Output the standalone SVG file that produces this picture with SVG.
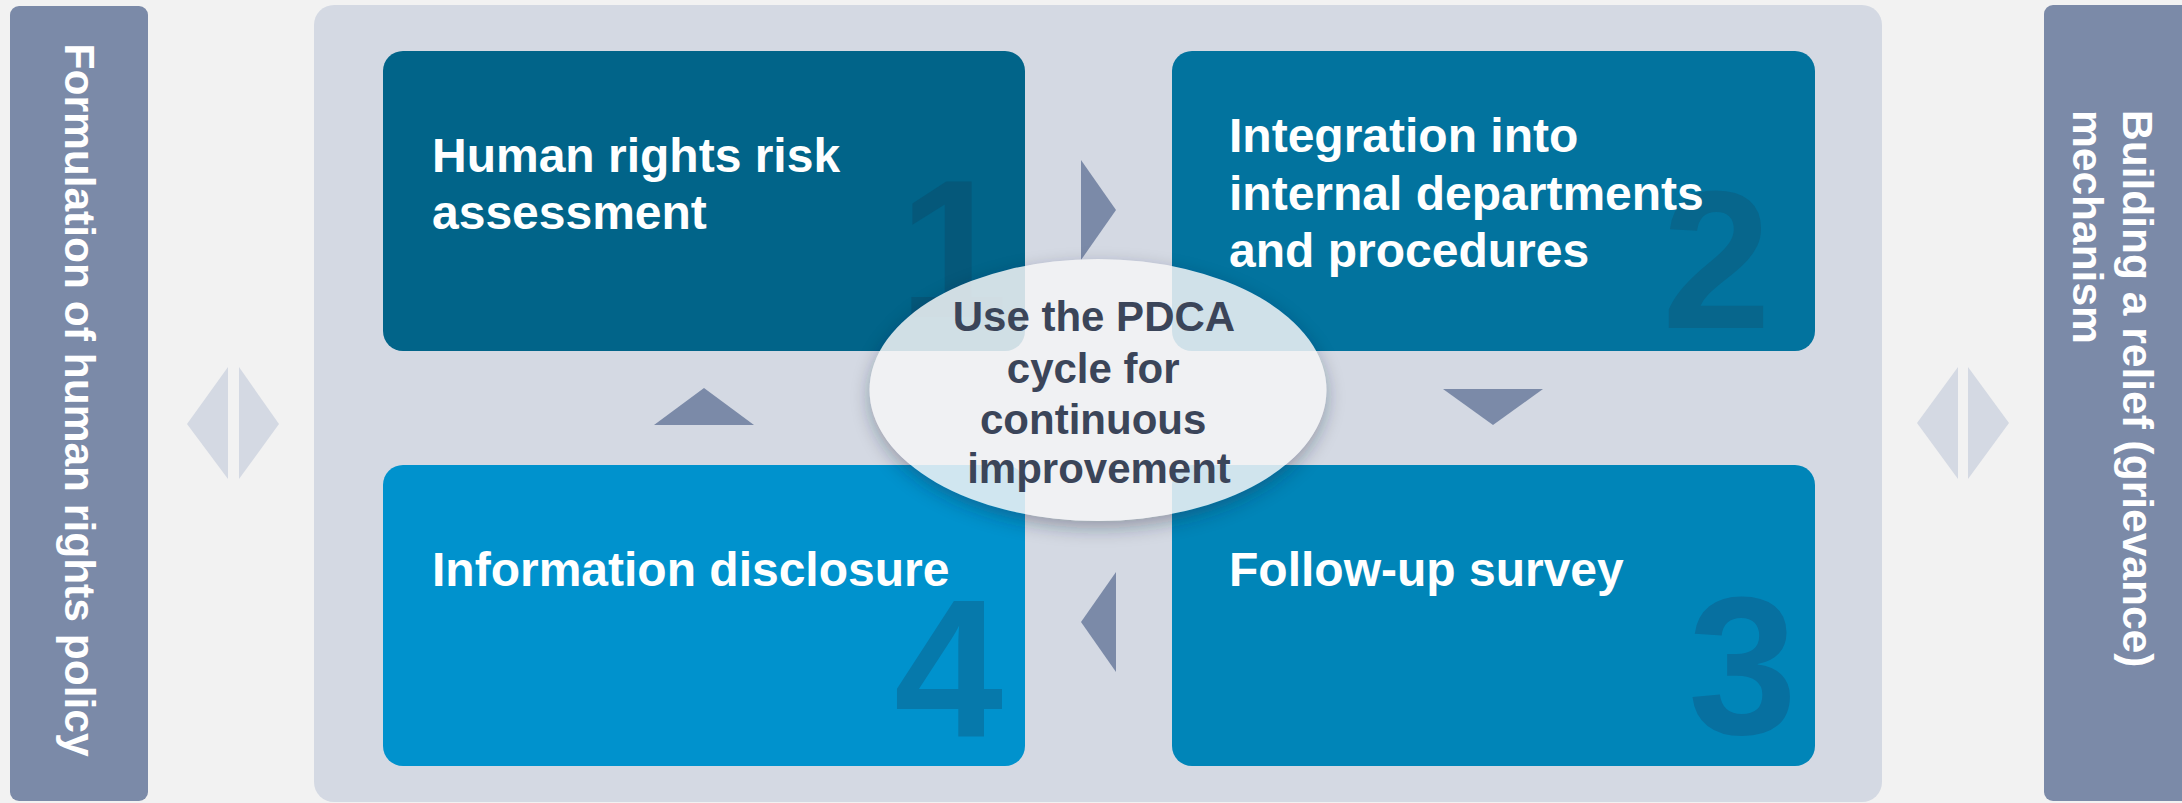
<svg xmlns="http://www.w3.org/2000/svg" width="2182" height="803" viewBox="0 0 2182 803">
  <style>
    .side { fill: #7b8aa8; }
    .side-label { font-family: "Liberation Sans", Arial, sans-serif; font-weight: bold; font-size: 42.5px; fill: #ffffff; }
    .frame { fill: #d4d9e3; }
    .step-label { font-family: "Liberation Sans", Arial, sans-serif; font-weight: bold; font-size: 48px; fill: #ffffff; }
    .step-num { font-family: "Liberation Sans", Arial, sans-serif; font-weight: bold; font-size: 196px; }
    .flow { fill: #7b8aa8; }
    .link { fill: #d4d9e3; }
    .hub-label { font-family: "Liberation Sans", Arial, sans-serif; font-weight: bold; font-size: 42px; fill: #3b4559; text-anchor: middle; }
  </style>
  <defs>
    <filter id="softShadow" x="-20%" y="-20%" width="140%" height="150%">
      <feGaussianBlur stdDeviation="9"/>
    </filter>
    <mask id="outsideHub">
      <rect x="0" y="0" width="2182" height="803" fill="#ffffff"/>
      <ellipse cx="1098" cy="390" rx="228.5" ry="131" fill="#000000"/>
    </mask>
  </defs>

  <!-- page background -->
  <rect x="0" y="0" width="2182" height="803" fill="#f2f2f2"/>

  <!-- left pillar -->
  <g id="node-policy">
    <rect class="side" x="10" y="6" width="138" height="795" rx="9"/>
    <text class="side-label" transform="translate(65,400) rotate(90)" text-anchor="middle">Formulation of human rights policy</text>
  </g>

  <!-- right pillar -->
  <g id="node-grievance">
    <rect class="side" x="2044" y="5" width="146" height="796" rx="9"/>
    <text class="side-label" transform="translate(2123,110) rotate(90)">
      <tspan x="0" y="0">Building a relief (grievance)</tspan>
      <tspan x="0" y="50">mechanism</tspan>
    </text>
  </g>

  <!-- central frame holding the cycle -->
  <g id="node-cycle">
    <rect class="frame" x="314" y="5" width="1568" height="797" rx="20"/>
  </g>

  <!-- step 1 -->
  <g id="node-step1">
    <rect x="383" y="51" width="642" height="300" rx="20" fill="#016489"/>
    <text class="step-num" x="1008" y="317" text-anchor="end" fill="#05587a">1</text>
    <text class="step-label" x="432" y="171.5">
      <tspan x="432" y="171.5">Human rights risk</tspan>
      <tspan x="432" y="228.5">assessment</tspan>
    </text>
  </g>

  <!-- step 2 -->
  <g id="node-step2">
    <rect x="1172" y="51" width="643" height="300" rx="20" fill="#02739e"/>
    <text class="step-num" x="1662" y="328" fill="#07668c">2</text>
    <text class="step-label">
      <tspan x="1229" y="152.3">Integration into</tspan>
      <tspan x="1229" y="209.5">internal departments</tspan>
      <tspan x="1229" y="266.7">and procedures</tspan>
    </text>
  </g>

  <!-- step 3 -->
  <g id="node-step3">
    <rect x="1172" y="465" width="643" height="301" rx="20" fill="#0085b8"/>
    <text class="step-num" x="1688" y="734" fill="#0770a0">3</text>
    <text class="step-label" x="1229" y="585.7">Follow-up survey</text>
  </g>

  <!-- step 4 -->
  <g id="node-step4">
    <rect x="383" y="465" width="642" height="301" rx="20" fill="#0092cd"/>
    <text class="step-num" x="894" y="737" fill="#0679ab">4</text>
    <text class="step-label" x="432" y="585.7">Information disclosure</text>
  </g>

  <!-- connectors: cycle arrows and side links -->
  <g id="connectors">
    <polygon class="flow" points="1081,160 1116,210 1081,260"/>
    <polygon class="flow" points="1443,389 1543,389 1493,425"/>
    <polygon class="flow" points="1116,572 1081,622 1116,672"/>
    <polygon class="flow" points="654,425 754,425 704,388"/>
    <polygon class="link" points="187,424 228,367 228,479"/>
    <polygon class="link" points="239,367 239,479 279,424"/>
    <polygon class="link" points="1917,423 1958,367 1958,479"/>
    <polygon class="link" points="1968,367 1968,479 2009,423"/>
  </g>

  <!-- PDCA hub -->
  <g id="node-pdca">
    <g mask="url(#outsideHub)">
      <ellipse cx="1098" cy="397" rx="228" ry="131" fill="#1e2a40" fill-opacity="0.35" filter="url(#softShadow)"/>
    </g>
    <ellipse cx="1098" cy="390" rx="228.5" ry="131" fill="#f4f5f6" fill-opacity="0.85"/>
    <text class="hub-label">
      <tspan x="1099" y="331">Use the PDCA</tspan>
      <tspan x="1099" y="382.7">cycle for</tspan>
      <tspan x="1099" y="434">continuous</tspan>
      <tspan x="1099" y="483.3">improvement</tspan>
    </text>
  </g>
</svg>
